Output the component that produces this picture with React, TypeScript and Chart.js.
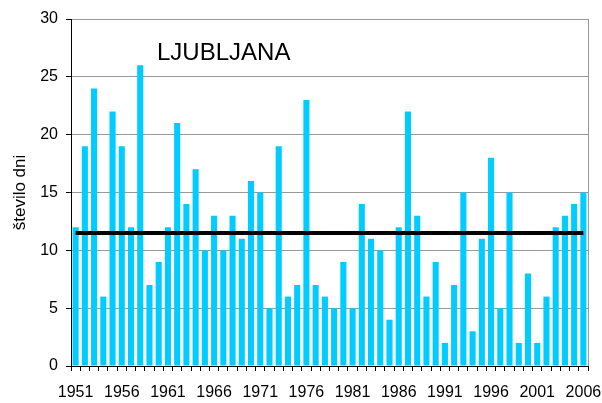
import React, { useEffect, useRef } from "react";
import { Chart, registerables } from "chart.js";

Chart.register(...registerables);

const years: string[] = [];
for (let y = 1951; y <= 2006; y++) years.push(String(y));

const days = [
  12, 19, 24, 6, 22, 19, 12, 26, 7, 9,
  12, 21, 14, 17, 10, 13, 10, 13, 11, 16,
  15, 5, 19, 6, 7, 23, 7, 6, 5, 9,
  5, 14, 11, 10, 4, 12, 22, 13, 6, 9,
  2, 7, 15, 3, 11, 18, 5, 15, 2, 8,
  2, 6, 12, 13, 14, 15,
];

const meanValue = 11.5;
const yTicks = [0, 5, 10, 15, 20, 25, 30];
const titleText = "LJUBLJANA";
const yTitle = "število dni";

const FONT = "'Liberation Sans', Arial, sans-serif";

const framePlugin = {
  id: "frame",
  afterDraw(chart: any) {
    const { ctx, chartArea } = chart;
    ctx.save();
    ctx.strokeStyle = "#999999";
    ctx.lineWidth = 1;
    ctx.beginPath();
    ctx.moveTo(Math.round(chartArea.right) + 0.5, chartArea.top);
    ctx.lineTo(Math.round(chartArea.right) + 0.5, chartArea.bottom);
    ctx.stroke();
    ctx.fillStyle = "#000";
    ctx.font = `24px ${FONT}`;
    ctx.textBaseline = "middle";
    ctx.textAlign = "left";
    ctx.fillText(titleText, chartArea.left + 86, chartArea.top + 34);
    ctx.restore();
  },
};

export default function App() {
  const ref = useRef<HTMLCanvasElement>(null);
  useEffect(() => {
    document.body.style.margin = "0";
    const chart = new Chart(ref.current!, {
      type: "bar",
      data: {
        labels: years,
        datasets: [
          {
            type: "line",
            data: years.map(() => meanValue),
            borderColor: "#000",
            borderWidth: 4,
            pointRadius: 0,
            order: 0,
          } as any,
          {
            type: "bar",
            data: days,
            backgroundColor: "#00CCFF",
            barPercentage: 0.66,
            categoryPercentage: 1,
            order: 1,
          },
        ],
      },
      options: {
        animation: false,
        responsive: false,
        maintainAspectRatio: false,
        layout: { padding: { left: 0, right: 14, top: 19, bottom: 0 } },
        plugins: { legend: { display: false }, tooltip: { enabled: false } },
        scales: {
          x: {
            offset: true,
            afterFit: (axis: any) => {
              axis.height = 37;
              axis.paddingLeft = 0;
              axis.paddingRight = 0;
            },
            grid: {
              offset: true,
              drawOnChartArea: false,
              drawTicks: true,
              tickLength: 5,
              color: "#000",
            },
            border: { color: "#000", width: 1 },
            ticks: {
              autoSkip: false,
              maxRotation: 0,
              minRotation: 0,
              color: "#000",
              font: { family: FONT, size: 16 },
              padding: 12,
              callback: (_v: any, i: number) => (i % 5 === 0 ? years[i] : ""),
            },
          },
          y: {
            min: 0,
            max: 30,
            afterFit: (axis: any) => {
              axis.width = 71;
              axis.paddingTop = 0;
              axis.paddingBottom = 0;
            },
            afterBuildTicks: (axis: any) => {
              axis.ticks = yTicks.map((v) => ({ value: v }));
            },
            grid: {
              color: "#999999",
              tickColor: "#000",
              tickLength: 5,
              lineWidth: 1,
            },
            border: { color: "#000", width: 1 },
            ticks: {
              color: "#000",
              font: { family: FONT, size: 16 },
              padding: 8,
            },
            title: {
              display: true,
              text: yTitle,
              color: "#000",
              font: { family: FONT, size: 17 },
              padding: { top: 10, bottom: 6 },
            },
          },
        },
      },
      plugins: [framePlugin],
    });
    return () => chart.destroy();
  }, []);
  return (
    <div style={{ width: 602, height: 403 }}>
      <canvas ref={ref} width={602} height={403} style={{ width: 602, height: 403 }} />
    </div>
  );
}
